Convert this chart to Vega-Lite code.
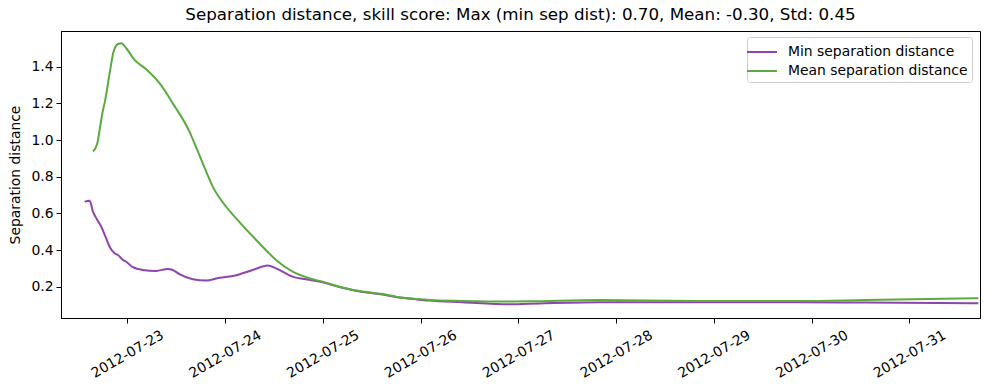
{
  "$schema": "https://vega.github.io/schema/vega-lite/v6.json",
  "width": 919,
  "height": 287,
  "autosize": {"type": "none"},
  "padding": {"left": 61, "top": 31, "right": 9, "bottom": 72},
  "background": "white",
  "title": {"text": "Separation distance, skill score: Max (min sep dist): 0.70, Mean: -0.30, Std: 0.45", "font": "DejaVu Sans", "fontSize": 16.7, "fontWeight": "normal", "color": "black", "anchor": "middle", "offset": 7},
  "config": {
    "view": {"stroke": "black", "strokeWidth": 1},
    "font": "DejaVu Sans"
  },
  "data": {"values": [
    {"t": "2012-07-22T13:32", "series": "Min separation distance", "v": 0.664},
    {"t": "2012-07-22T14:46", "series": "Min separation distance", "v": 0.669},
    {"t": "2012-07-22T15:35", "series": "Min separation distance", "v": 0.609},
    {"t": "2012-07-22T16:33", "series": "Min separation distance", "v": 0.568},
    {"t": "2012-07-22T17:37", "series": "Min separation distance", "v": 0.527},
    {"t": "2012-07-22T18:40", "series": "Min separation distance", "v": 0.472},
    {"t": "2012-07-22T19:40", "series": "Min separation distance", "v": 0.418},
    {"t": "2012-07-22T20:53", "series": "Min separation distance", "v": 0.382},
    {"t": "2012-07-22T21:42", "series": "Min separation distance", "v": 0.373},
    {"t": "2012-07-22T22:56", "series": "Min separation distance", "v": 0.346},
    {"t": "2012-07-22T23:45", "series": "Min separation distance", "v": 0.336},
    {"t": "2012-07-23T01:22", "series": "Min separation distance", "v": 0.306},
    {"t": "2012-07-23T03:49", "series": "Min separation distance", "v": 0.291},
    {"t": "2012-07-23T07:06", "series": "Min separation distance", "v": 0.286},
    {"t": "2012-07-23T09:57", "series": "Min separation distance", "v": 0.297},
    {"t": "2012-07-23T11:11", "series": "Min separation distance", "v": 0.291},
    {"t": "2012-07-23T12:49", "series": "Min separation distance", "v": 0.268},
    {"t": "2012-07-23T16:05", "series": "Min separation distance", "v": 0.240},
    {"t": "2012-07-23T19:22", "series": "Min separation distance", "v": 0.233},
    {"t": "2012-07-23T22:38", "series": "Min separation distance", "v": 0.249},
    {"t": "2012-07-24T01:54", "series": "Min separation distance", "v": 0.258},
    {"t": "2012-07-24T06:48", "series": "Min separation distance", "v": 0.291},
    {"t": "2012-07-24T10:28", "series": "Min separation distance", "v": 0.315},
    {"t": "2012-07-24T12:31", "series": "Min separation distance", "v": 0.300},
    {"t": "2012-07-24T16:36", "series": "Min separation distance", "v": 0.255},
    {"t": "2012-07-24T20:41", "series": "Min separation distance", "v": 0.237},
    {"t": "2012-07-24T23:57", "series": "Min separation distance", "v": 0.224},
    {"t": "2012-07-25T04:03", "series": "Min separation distance", "v": 0.198},
    {"t": "2012-07-25T09:46", "series": "Min separation distance", "v": 0.171},
    {"t": "2012-07-25T14:40", "series": "Min separation distance", "v": 0.157},
    {"t": "2012-07-25T17:57", "series": "Min separation distance", "v": 0.143},
    {"t": "2012-07-25T22:51", "series": "Min separation distance", "v": 0.131},
    {"t": "2012-07-26T02:07", "series": "Min separation distance", "v": 0.124},
    {"t": "2012-07-26T10:16", "series": "Min separation distance", "v": 0.115},
    {"t": "2012-07-26T21:43", "series": "Min separation distance", "v": 0.104},
    {"t": "2012-07-27T02:37", "series": "Min separation distance", "v": 0.107},
    {"t": "2012-07-27T19:47", "series": "Min separation distance", "v": 0.115},
    {"t": "2012-07-28T20:17", "series": "Min separation distance", "v": 0.115},
    {"t": "2012-07-29T20:47", "series": "Min separation distance", "v": 0.115},
    {"t": "2012-07-30T13:10", "series": "Min separation distance", "v": 0.113},
    {"t": "2012-07-31T16:55", "series": "Min separation distance", "v": 0.109},
    {"t": "2012-07-22T15:35", "series": "Mean separation distance", "v": 0.937},
    {"t": "2012-07-22T16:39", "series": "Mean separation distance", "v": 0.982},
    {"t": "2012-07-22T17:13", "series": "Mean separation distance", "v": 1.055},
    {"t": "2012-07-22T17:53", "series": "Mean separation distance", "v": 1.146},
    {"t": "2012-07-22T18:36", "series": "Mean separation distance", "v": 1.219},
    {"t": "2012-07-22T19:40", "series": "Mean separation distance", "v": 1.364},
    {"t": "2012-07-22T20:38", "series": "Mean separation distance", "v": 1.482},
    {"t": "2012-07-22T21:42", "series": "Mean separation distance", "v": 1.524},
    {"t": "2012-07-22T22:32", "series": "Mean separation distance", "v": 1.528},
    {"t": "2012-07-22T23:45", "series": "Mean separation distance", "v": 1.501},
    {"t": "2012-07-23T01:47", "series": "Mean separation distance", "v": 1.437},
    {"t": "2012-07-23T04:39", "series": "Mean separation distance", "v": 1.386},
    {"t": "2012-07-23T07:55", "series": "Mean separation distance", "v": 1.310},
    {"t": "2012-07-23T11:11", "series": "Mean separation distance", "v": 1.200},
    {"t": "2012-07-23T15:16", "series": "Mean separation distance", "v": 1.046},
    {"t": "2012-07-23T16:55", "series": "Mean separation distance", "v": 0.960},
    {"t": "2012-07-23T18:32", "series": "Mean separation distance", "v": 0.873},
    {"t": "2012-07-23T20:59", "series": "Mean separation distance", "v": 0.746},
    {"t": "2012-07-24T00:16", "series": "Mean separation distance", "v": 0.636},
    {"t": "2012-07-24T02:43", "series": "Mean separation distance", "v": 0.573},
    {"t": "2012-07-24T08:25", "series": "Mean separation distance", "v": 0.437},
    {"t": "2012-07-24T12:31", "series": "Mean separation distance", "v": 0.346},
    {"t": "2012-07-24T16:36", "series": "Mean separation distance", "v": 0.282},
    {"t": "2012-07-24T20:41", "series": "Mean separation distance", "v": 0.246},
    {"t": "2012-07-24T23:57", "series": "Mean separation distance", "v": 0.227},
    {"t": "2012-07-25T04:03", "series": "Mean separation distance", "v": 0.200},
    {"t": "2012-07-25T09:46", "series": "Mean separation distance", "v": 0.173},
    {"t": "2012-07-25T14:40", "series": "Mean separation distance", "v": 0.160},
    {"t": "2012-07-25T17:57", "series": "Mean separation distance", "v": 0.145},
    {"t": "2012-07-25T22:51", "series": "Mean separation distance", "v": 0.133},
    {"t": "2012-07-26T02:07", "series": "Mean separation distance", "v": 0.127},
    {"t": "2012-07-26T10:16", "series": "Mean separation distance", "v": 0.122},
    {"t": "2012-07-26T21:43", "series": "Mean separation distance", "v": 0.119},
    {"t": "2012-07-27T02:37", "series": "Mean separation distance", "v": 0.120},
    {"t": "2012-07-27T19:47", "series": "Mean separation distance", "v": 0.127},
    {"t": "2012-07-28T20:17", "series": "Mean separation distance", "v": 0.122},
    {"t": "2012-07-29T20:47", "series": "Mean separation distance", "v": 0.122},
    {"t": "2012-07-30T13:10", "series": "Mean separation distance", "v": 0.127},
    {"t": "2012-07-31T16:55", "series": "Mean separation distance", "v": 0.137}
  ]},
  "mark": {"type": "line", "strokeWidth": 2, "clip": true, "interpolate": "monotone"},
  "encoding": {
    "x": {
      "field": "t", "type": "temporal",
      "scale": {"domain": [{"year": 2012, "month": 7, "date": 22, "hours": 7, "minutes": 44}, {"year": 2012, "month": 7, "date": 31, "hours": 17, "minutes": 20}], "nice": false},
      "axis": {"title": null, "format": "%Y-%m-%d", "tickCount": {"interval": "day", "step": 1}, "grid": false, "domainColor": "black", "tickColor": "black", "tickSize": 5, "labelColor": "black", "labelFontSize": 13.9, "labelFont": "DejaVu Sans", "labelAngle": -30, "labelAlign": "center", "labelBaseline": "middle", "labelPadding": 31, "labelOverlap": false, "labelFlush": false}
    },
    "y": {
      "field": "v", "type": "quantitative",
      "scale": {"domain": [0.029, 1.595], "nice": false, "zero": false},
      "axis": {"title": "Separation distance", "titleFontSize": 13.9, "titleFont": "DejaVu Sans", "titleFontWeight": "normal", "titleColor": "black", "titlePadding": 8, "values": [0.2, 0.4, 0.6, 0.8, 1.0, 1.2, 1.4], "format": ".1f", "grid": false, "domainColor": "black", "tickColor": "black", "tickSize": 5, "labelColor": "black", "labelFontSize": 13.9, "labelFont": "DejaVu Sans", "labelPadding": 3}
    },
    "color": {
      "field": "series", "type": "nominal",
      "scale": {"domain": ["Min separation distance", "Mean separation distance"], "range": ["#8e44ad", "#5aaa3f"]},
      "legend": {"title": null, "orient": "none", "legendX": 686, "legendY": 6, "symbolType": "M-1.5,0L1.5,0", "symbolSize": 400, "symbolStrokeWidth": 2, "symbolFillColor": "transparent", "labelFontSize": 13.9, "labelFont": "DejaVu Sans", "labelColor": "black", "labelOffset": 15, "labelLimit": 0, "padding": 4, "rowPadding": 1, "strokeColor": "#cccccc", "fillColor": "white", "cornerRadius": 3, "offset": 0}
    }
  }
}
